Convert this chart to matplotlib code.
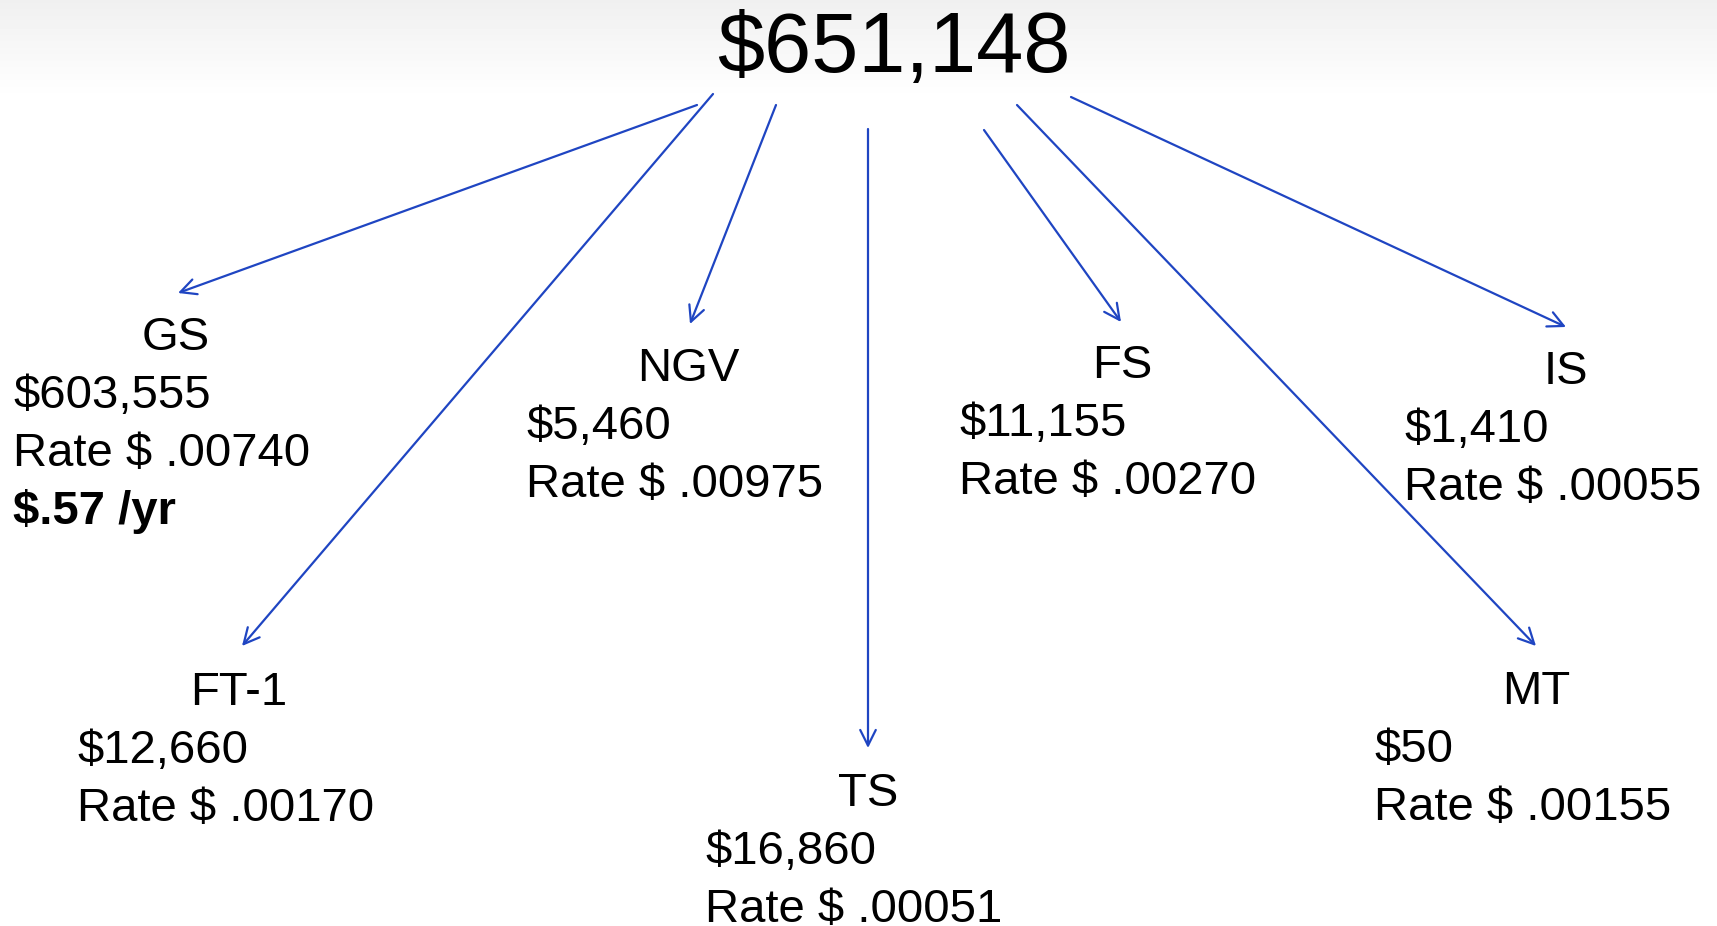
import numpy as np
import matplotlib.pyplot as plt

# Data
total = "$651,148"
classes = ["GS", "FT-1", "NGV", "TS", "FS", "MT", "IS"]
amounts = ["$603,555", "$12,660", "$5,460", "$16,860", "$11,155", "$50", "$1,410"]
rates = ["Rate $ .00740", "Rate $ .00170", "Rate $ .00975", "Rate $ .00051",
         "Rate $ .00270", "Rate $ .00155", "Rate $ .00055"]
extra = {"GS": "$.57 /yr"}

# Layout (pixel coordinates)
W, H = 1717, 926
title_xy = (894, 50)
label_center = [(176, 338), (239, 693), (688, 369), (868, 794), (1122, 366), (1536, 692), (1566, 372)]
line_left = [13, 77, 526, 705, 959, 1374, 1404]
line_step = 58
arrow_start = [(697, 105), (713, 94), (776, 105), (868, 129), (984, 130), (1017, 105), (1071, 97)]
arrow_end = [(178, 293), (242, 646), (690, 324), (868, 748), (1121, 322), (1536, 646), (1566, 327)]

plt.rcParams['font.family'] = ['Liberation Sans', 'DejaVu Sans']
fig = plt.figure(figsize=(W / 100, H / 100), dpi=100)
ax = fig.add_axes([0, 0, 1, 1])
ax.set_xlim(0, W)
ax.set_ylim(H, 0)
ax.axis("off")

# faint grey band at the top
grad = np.linspace(0.94, 1.0, 100).reshape(-1, 1)
ax.imshow(grad, cmap="gray", vmin=0, vmax=1, extent=[0, W, 100, 0], aspect="auto", zorder=0)

ax.text(title_xy[0], title_xy[1], total, fontsize=61, ha="center", va="center", color="black")

blue = "#1f45c2"
for i, name in enumerate(classes):
    ax.annotate("", xy=arrow_end[i], xytext=arrow_start[i],
                arrowprops=dict(arrowstyle="->", color=blue, lw=1.6,
                                mutation_scale=28, shrinkA=0, shrinkB=0))
    cx, cy = label_center[i]
    ax.text(cx, cy, name, fontsize=34, ha="center", va="center")
    ax.text(line_left[i], cy + line_step, amounts[i], fontsize=34, ha="left", va="center")
    ax.text(line_left[i], cy + 2 * line_step, rates[i], fontsize=34, ha="left", va="center")
    if name in extra:
        ax.text(line_left[i], cy + 3 * line_step, extra[name], fontsize=34,
                fontweight="bold", ha="left", va="center")

fig.savefig("out.png", dpi=100)
